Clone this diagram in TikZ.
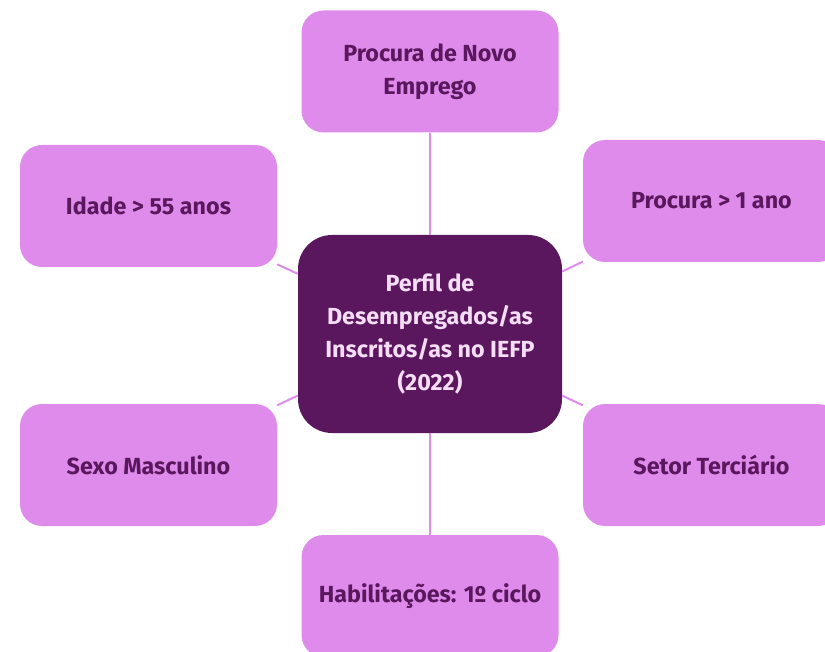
\documentclass[tikz,border=0pt]{standalone}
\usepackage{fontspec}
\setmainfont{Fira Sans}
\usetikzlibrary{positioning}

\definecolor{perfildark}{HTML}{5A175D}
\definecolor{perfillight}{HTML}{DF8BEB}
\definecolor{perfiltext}{HTML}{F6DDF6}

\begin{document}
\begin{tikzpicture}[
        x=1pt, y=-1pt,
        font=\bfseries\fontsize{23.3}{33}\selectfont,
        link/.style={draw=perfillight, line width=2pt},
        center/.style={fill=perfildark, text=perfiltext, rounded corners=34pt,
                      minimum width=264pt, minimum height=198pt, align=center},
        factor/.style={fill=perfillight, text=perfildark, rounded corners=22pt,
                      minimum width=257pt, minimum height=122pt, align=center}
    ]
        \clip (0,0) rectangle (825,652);

        \node[center] (perfil) at (430,334) {Perfil de\\Desempregados/as\\Inscritos/as no IEFP\\(2022)};

        \node[factor] (emprego) at (430,71.5) {Procura de Novo\\Emprego};
        \node[factor] (idade) at (148.5,206) {Idade > 55 anos};
        \node[factor] (procura) at (711.5,201) {Procura > 1 ano};
        \node[factor] (sexo) at (148.5,465) {Sexo Masculino};
        \node[factor] (setor) at (711.5,465) {Setor Terciário};
        \node[factor] (habil) at (430,596) {Habilitações: 1º ciclo};

        \draw[link] (perfil) -- (emprego);
        \draw[link] (perfil) -- (idade);
        \draw[link] (perfil) -- (procura);
        \draw[link] (perfil) -- (sexo);
        \draw[link] (perfil) -- (setor);
        \draw[link] (perfil) -- (habil);
    \end{tikzpicture}
\end{document}
